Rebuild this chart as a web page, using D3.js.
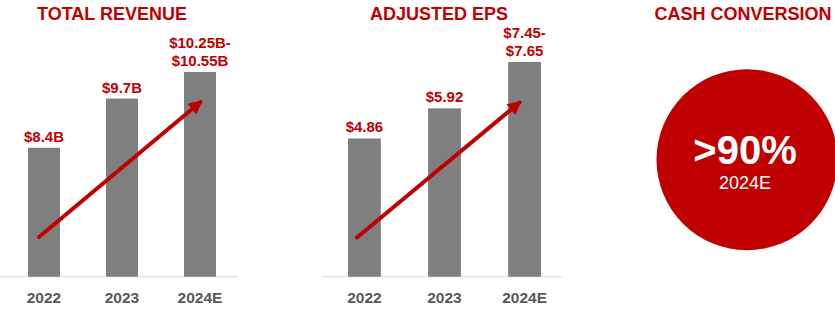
<!DOCTYPE html>
<html>
<head>
<meta charset="utf-8">
<script src="https://cdn.jsdelivr.net/npm/d3@7"></script>
<style>
  body { margin: 0; background: #fff; }
  svg { display: block; font-family: "Liberation Sans", Arial, sans-serif; }
</style>
</head>
<body>
<svg id="chart"></svg>
<script>
const years = ["2022", "2023", "2024E"];

// revenue in $B, 2024E is the midpoint of the guidance range
const revenue = [8.4, 9.7, 10.4];
const revenueLabels = [["$8.4B"], ["$9.7B"], ["$10.25B-", "$10.55B"]];

// adjusted EPS, 2024E is the midpoint of the range
const eps = [4.86, 5.92, 7.55];
const epsLabels = [["$4.86"], ["$5.92"], ["$7.45-", "$7.65"]];

const cashConversion = ">90%";
const cashYear = "2024E";

const red = "#c00000";
const grey = "#7f7f7f";
const width = 835, height = 309;
const baseline = 276.7;

const svg = d3.select("#chart").attr("width", width).attr("height", height);

const defs = svg.append("defs");
defs.append("marker")
  .attr("id", "head")
  .attr("viewBox", "0 0 10 10")
  .attr("refX", 8)
  .attr("refY", 5)
  .attr("markerUnits", "userSpaceOnUse")
  .attr("markerWidth", 15)
  .attr("markerHeight", 14)
  .attr("orient", "auto")
  .append("path")
  .attr("d", "M0,0 L10,5 L0,10 Z")
  .attr("fill", red);

function panel({ title, titleX, values, labels, xRange, lineRange, y, arrow }) {
  const g = svg.append("g");

  const x = d3.scaleBand()
    .domain(years)
    .range(xRange)
    .paddingInner(0.59)
    .paddingOuter(0);

  g.append("text")
    .attr("x", titleX)
    .attr("y", 20)
    .attr("text-anchor", "middle")
    .attr("fill", red)
    .attr("font-size", 18)
    .attr("font-weight", "bold")
    .text(title);

  g.append("line")
    .attr("x1", lineRange[0])
    .attr("x2", lineRange[1])
    .attr("y1", baseline)
    .attr("y2", baseline)
    .attr("stroke", "#d9d9d9")
    .attr("stroke-width", 1);

  g.selectAll("rect")
    .data(values)
    .join("rect")
    .attr("x", (d, i) => x(years[i]))
    .attr("y", d => y(d))
    .attr("width", x.bandwidth())
    .attr("height", d => baseline - y(d))
    .attr("fill", grey);

  // value labels above bars (one or two lines)
  g.selectAll("text.val")
    .data(values)
    .join("text")
    .attr("class", "val")
    .attr("text-anchor", "middle")
    .attr("fill", red)
    .attr("font-size", 15)
    .attr("font-weight", "bold")
    .each(function (d, i) {
      const lines = labels[i];
      const cx = x(years[i]) + x.bandwidth() / 2;
      const top = y(d) - 6 - (lines.length - 1) * 18;
      d3.select(this).selectAll("tspan")
        .data(lines)
        .join("tspan")
        .attr("x", cx)
        .attr("y", (t, j) => top + j * 18)
        .text(t => t);
    });

  // year labels
  g.selectAll("text.yr")
    .data(years)
    .join("text")
    .attr("class", "yr")
    .attr("x", d => x(d) + x.bandwidth() / 2)
    .attr("y", 303)
    .attr("text-anchor", "middle")
    .attr("fill", "#595959")
    .attr("font-size", 15.5)
    .attr("font-weight", "bold")
    .text(d => d);

  g.append("line")
    .attr("x1", arrow[0][0])
    .attr("y1", arrow[0][1])
    .attr("x2", arrow[1][0])
    .attr("y2", arrow[1][1])
    .attr("stroke", red)
    .attr("stroke-width", 4)
    .attr("stroke-linecap", "round")
    .attr("marker-end", "url(#head)");
}

panel({
  title: "TOTAL REVENUE",
  titleX: 112,
  values: revenue,
  labels: revenueLabels,
  xRange: [28, 216],
  lineRange: [0, 238],
  y: d3.scaleLinear().domain([5, 10.4]).range([baseline, 72]),
  arrow: [[39, 237], [200.5, 102]]
});

panel({
  title: "ADJUSTED EPS",
  titleX: 439,
  values: eps,
  labels: epsLabels,
  xRange: [348, 541],
  lineRange: [323, 563],
  y: d3.scaleLinear().domain([0, 7.55]).range([baseline, 62]),
  arrow: [[357, 237.5], [519.5, 102.5]]
});

// cash conversion
svg.append("text")
  .attr("x", 743)
  .attr("y", 20)
  .attr("text-anchor", "middle")
  .attr("fill", red)
  .attr("font-size", 18)
  .attr("font-weight", "bold")
  .text("CASH CONVERSION");

svg.append("circle")
  .attr("cx", 747)
  .attr("cy", 159.7)
  .attr("r", 90.5)
  .attr("fill", red);

svg.append("text")
  .attr("x", 745)
  .attr("y", 164)
  .attr("text-anchor", "middle")
  .attr("fill", "#fff")
  .attr("font-size", 40)
  .attr("font-weight", "bold")
  .text(cashConversion);

svg.append("text")
  .attr("x", 745)
  .attr("y", 189)
  .attr("text-anchor", "middle")
  .attr("fill", "#fff")
  .attr("font-size", 18)
  .text(cashYear);
</script>
</body>
</html>
